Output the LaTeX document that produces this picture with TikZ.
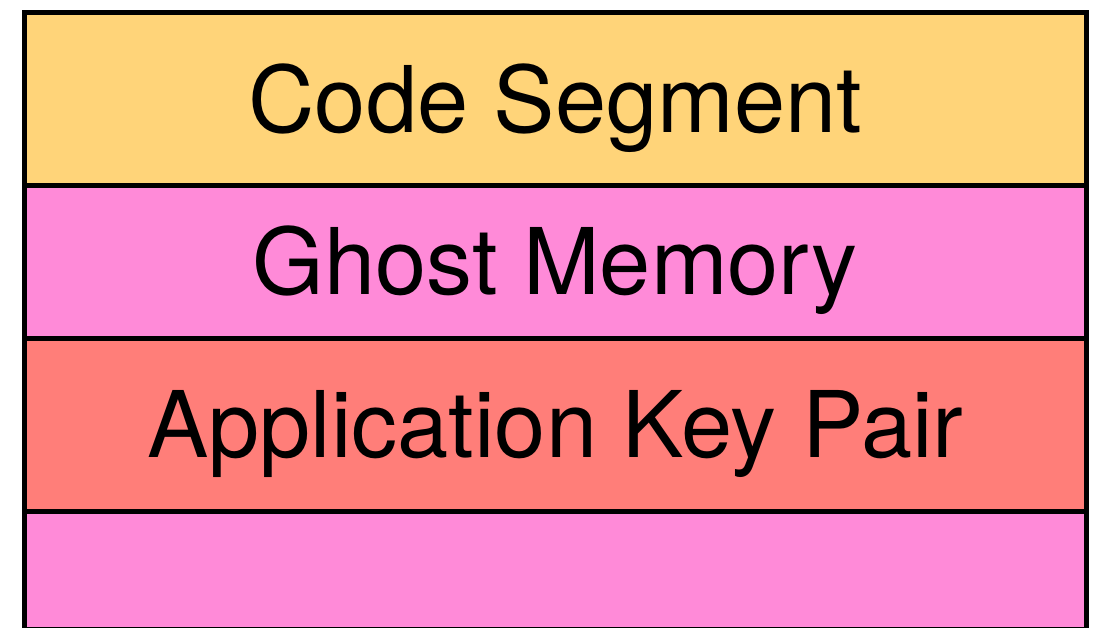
\documentclass[tikz,border=0pt]{standalone}
\usepackage{xcolor}
\usepackage{fontspec}
\setmainfont{TeX Gyre Heros}
\usepackage{tikz}
\usetikzlibrary{positioning}

\definecolor{cantaloupe}{HTML}{FFD479}
\definecolor{carnation}{HTML}{FF8AD8}
\definecolor{salmon}{HTML}{FF7E79}

\begin{document}
\begin{tikzpicture}[node distance=0pt,
    layer/.style={rectangle, draw=black, line width=2.5pt, inner sep=0pt, outer sep=0pt,
        minimum width=530.75pt, text height=33pt, text depth=0pt,
        font=\fontsize{46}{50}\selectfont}]

    \useasboundingbox (0,0) rectangle (548pt,-313.5pt);

    \node[layer, fill=cantaloupe, minimum height=86.6pt, anchor=north west] (code) at (12.25pt,-6.25pt) {Code Segment};
    \node[layer, fill=carnation, minimum height=76.15pt, below=of code] (ghost) {Ghost Memory};
    \node[layer, fill=salmon, minimum height=86.65pt, below=of ghost] (keypair) {Application Key Pair};
    \node[layer, fill=carnation, minimum height=58.9pt, below=of keypair] (rest) {};

\end{tikzpicture}
\end{document}
